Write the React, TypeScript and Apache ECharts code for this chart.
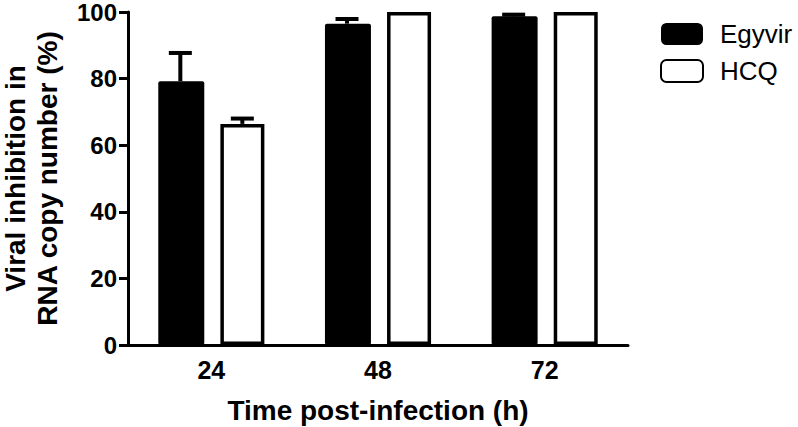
import React, { useEffect, useRef } from "react";
import * as echarts from "echarts";

const categories = ["24", "48", "72"];
const egyvirValues = [79.2, 96.5, 98.7];
const egyvirErrors = [8.5, 1.4, 0.5];
const hcqValues = [66.4, 100, 100];
const hcqErrors = [1.6, 0, 0];
const yTicks = { min: 0, max: 100, interval: 20 };

const FONT = "'Liberation Sans', Arial, Helvetica, sans-serif";
const BAR_W = 46;
const OFFSET = 31;

function errorSeries(name: string, values: number[], errors: number[], offset: number) {
  return {
    type: "custom",
    name: name + "-err",
    z: 10,
    silent: true,
    encode: { x: 0, y: 1 },
    data: values.map((v, i) => [i, v, errors[i]]),
    renderItem: (params: any, api: any) => {
      const err = api.value(2);
      if (!err) return { type: "group", children: [] };
      const base = api.coord([api.value(0), api.value(1)]);
      const top = api.coord([api.value(0), api.value(1) + err]);
      const x = base[0] + offset;
      const style = { stroke: "#000", lineWidth: 4 };
      return {
        type: "group",
        children: [
          { type: "line", shape: { x1: x, y1: base[1], x2: x, y2: top[1] }, style },
          { type: "line", shape: { x1: x - 11.5, y1: top[1], x2: x + 11.5, y2: top[1] }, style },
        ],
      };
    },
  };
}

export default function App() {
  const ref = useRef<HTMLDivElement>(null);
  useEffect(() => {
    if (!ref.current) return;
    const chart = echarts.init(ref.current, null, { renderer: "svg" });
    chart.setOption({
      animation: false,
      backgroundColor: "#fff",
      grid: { left: 128, right: 170, top: 12, bottom: 82, outerBoundsMode: "none", containLabel: false },
      legend: {
        orient: "vertical",
        left: 655,
        top: 16,
        itemWidth: 42,
        itemHeight: 22,
        itemGap: 11,
        icon: "roundRect",
        data: ["Egyvir", "HCQ"],
        textStyle: { fontFamily: FONT, fontSize: 26, lineHeight: 22, color: "#000", padding: [0, 0, 0, 12] },
      },
      xAxis: {
        type: "category",
        data: categories,
        name: "Time post-infection (h)",
        nameLocation: "middle",
        nameGap: 51,
        nameTextStyle: { fontFamily: FONT, fontSize: 28, fontWeight: "bold", color: "#000" },
        axisLine: { lineStyle: { color: "#000", width: 3 } },
        axisTick: { alignWithLabel: true, length: 9, lineStyle: { color: "#000", width: 3 } },
        axisLabel: { fontFamily: FONT, fontSize: 25, fontWeight: "bold", color: "#000", margin: 12 },
      },
      yAxis: {
        type: "value",
        min: yTicks.min,
        max: yTicks.max,
        interval: yTicks.interval,
        name: "Viral inhibition in\nRNA copy number (%)",
        nameLocation: "middle",
        nameRotate: 90,
        nameGap: 65,
        nameTextStyle: { fontFamily: FONT, fontSize: 28, fontWeight: "bold", color: "#000", lineHeight: 32 },
        axisLine: { show: true, lineStyle: { color: "#000", width: 3 } },
        axisTick: { show: true, length: 9, lineStyle: { color: "#000", width: 3 } },
        axisLabel: { fontFamily: FONT, fontSize: 24, fontWeight: "bold", color: "#000", margin: 11 },
        splitLine: { show: false },
      },
      series: [
        {
          type: "bar",
          name: "Egyvir",
          data: egyvirValues,
          barWidth: BAR_W,
          barGap: "35%",
          itemStyle: { color: "#000", borderColor: "#000", borderWidth: 0, borderRadius: 2 },
        },
        {
          type: "bar",
          name: "HCQ",
          data: hcqValues,
          barWidth: BAR_W - 2,
          itemStyle: { color: "#fff", borderColor: "#000", borderWidth: 3.5 },
        },
        errorSeries("Egyvir", egyvirValues, egyvirErrors, -OFFSET),
        errorSeries("HCQ", hcqValues, hcqErrors, OFFSET),
      ],
    });
    return () => chart.dispose();
  }, []);
  return (
    <div
      ref={ref}
      style={{ position: "fixed", left: 0, top: 0, width: 798, height: 427, background: "#fff" }}
    />
  );
}
